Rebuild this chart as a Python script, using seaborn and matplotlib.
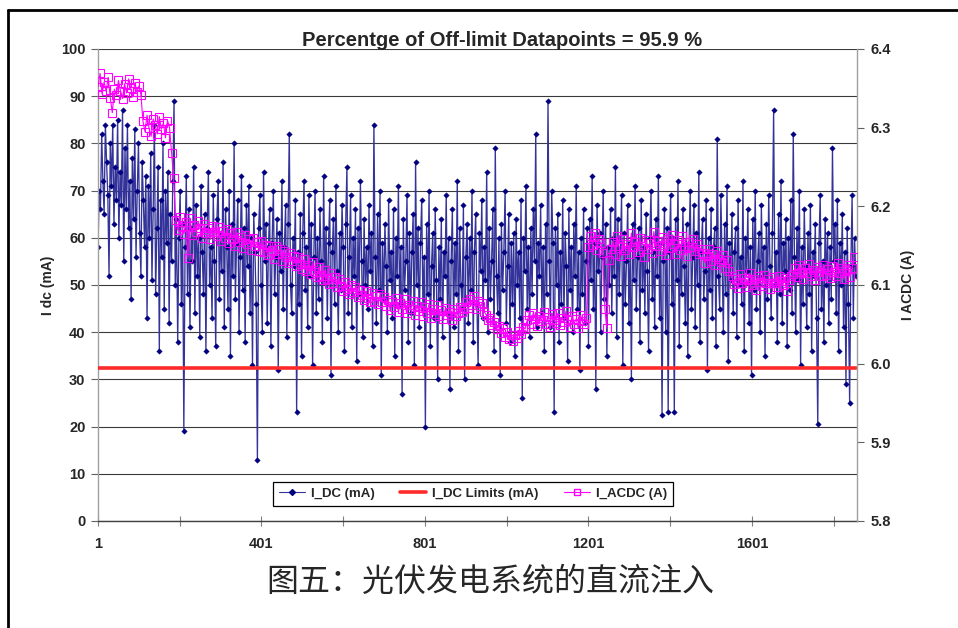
import numpy as np
import pandas as pd
import matplotlib
matplotlib.use("Agg")
import matplotlib.pyplot as plt
from matplotlib.lines import Line2D
import seaborn as sns

# ---------------- data ----------------
title_text = "Percentge of Off-limit Datapoints = 95.9 %"
caption_text = "图五：光伏发电系统的直流注入"
series_names = ["I_DC (mA)", "I_DC Limits (mA)", "I_ACDC (A)"]
left_label = "I dc (mA)"
right_label = "I ACDC (A)"
x_tick_labels = [1, 401, 801, 1201, 1601]

idc_step = 3
i_dc = [
    58, 70, 66, 82, 72, 65, 84, 76, 69, 52, 80, 71, 84, 63, 75, 68, 85, 60, 74, 67,
    87, 55, 79, 66, 84, 62, 72, 47, 77, 64, 83, 56, 70, 80, 61, 52, 76, 68, 58, 73,
    43, 71, 60, 78, 51, 66, 84, 48, 62, 75, 36, 68, 56, 80, 45, 70, 59, 74, 42, 65,
    55, 72, 89, 50, 64, 38, 60, 70, 46, 63, 19, 58, 73, 48, 66, 41, 62, 55, 75, 44,
    67, 52, 60, 39, 71, 57, 48, 65, 36, 62, 74, 50, 58, 43, 69, 55, 37, 64, 72, 47,
    61, 53, 76, 41, 66, 58, 45, 70, 35, 63, 52, 80, 47, 59, 68, 40, 56, 73, 49, 62,
    38, 67, 54, 71, 44, 60, 33, 65, 57, 46, 13, 62, 69, 50, 40, 74, 55, 63, 42, 58,
    66, 37, 59, 70, 48, 56, 64, 32, 61, 53, 72, 45, 58, 67, 39, 63, 82, 50, 44, 60,
    54, 68, 23, 57, 46, 65, 35, 61, 72, 49, 58, 41, 69, 52, 63, 33, 56, 70, 44, 60,
    47, 66, 55, 38, 73, 51, 62, 43, 59, 68, 31, 57, 64, 46, 71, 53, 40, 61, 49, 67,
    58, 36, 63, 75, 44, 56, 69, 41, 60, 52, 66, 34, 62, 48, 72, 55, 39, 64, 50, 58,
    45, 67, 53, 61, 37, 84, 56, 42, 65, 49, 70, 31, 59, 47, 63, 54, 40, 68, 51, 57,
    43, 66, 35, 60, 52, 71, 46, 58, 27, 64, 49, 55, 69, 38, 61, 44, 57, 65, 33, 76,
    50, 62, 41, 59, 68, 45, 56, 20, 63, 48, 70, 37, 54, 61, 43, 66, 51, 30, 58, 47,
    64, 39, 57, 52, 69, 44, 60, 28, 55, 66, 41, 59, 48, 72, 36, 62, 50, 45, 67, 30,
    56, 63, 42, 60, 49, 70, 38, 57, 65, 46, 33, 61, 53, 68, 43, 58, 51, 74, 40, 62,
    47, 55, 66, 36, 79, 52, 44, 60, 31, 63, 49, 57, 70, 42, 54, 65, 38, 59, 46, 61,
    35, 64, 50, 57, 43, 68, 26, 60, 53, 71, 45, 58, 39, 62, 48, 66, 55, 82, 41, 59,
    52, 67, 44, 58, 36, 63, 48, 89, 55, 41, 70, 59, 23, 62, 50, 65, 38, 57, 46, 68,
    43, 61, 54, 34, 66, 49, 58, 40, 63, 52, 71, 45, 57, 32, 60, 48, 66, 42, 55, 62,
    37, 64, 51, 73, 45, 59, 28, 67, 53, 61, 40, 56, 70, 47, 63, 35, 58, 50, 66, 44,
    60, 52, 75, 39, 64, 48, 57, 69, 33, 61, 46, 55, 67, 42, 59, 30, 63, 51, 71, 45,
    56, 62, 38, 68, 49, 58, 44, 65, 53, 36, 60, 70, 47, 57, 41, 64, 52, 73, 43, 59,
    22.5, 55, 66, 40, 62, 23, 57, 69, 46, 60, 23, 64, 51, 72, 37, 58, 48, 66, 54, 42,
    63, 35, 59, 70, 45, 56, 67, 41, 61, 50, 74, 38, 57, 64, 47, 53, 68, 32, 60, 49,
    66, 43, 58, 62, 37, 81, 52, 45, 69, 55, 40, 63, 48, 71, 34, 59, 51, 65, 44, 57,
    62, 39, 68, 50, 56, 46, 72, 36, 60, 53, 66, 42, 58, 31, 64, 49, 70, 45, 55, 61,
    40, 67, 52, 58, 35, 63, 47, 69, 54, 43, 61, 87, 50, 57, 38, 65, 48, 72, 42, 59,
    53, 64, 37, 60, 49, 68, 44, 82, 56, 40, 62, 51, 70, 33, 58, 46, 66, 54, 41, 61,
    48, 67, 36, 57, 52, 63, 43, 20.5, 59, 69, 45, 55, 38, 64, 50, 61, 42, 58, 47, 79,
    55, 63, 44, 68, 36, 59, 50, 65, 41, 57, 29, 62, 46, 25, 54, 69, 43, 60, 52,
]

i_dc_limit = 32.5

acdc_step = 5
i_acdc = [
    # start plateau
    6.352, 6.369, 6.343, 6.358, 6.346, 6.364, 6.338, 6.319, 6.349, 6.341, 6.360,
    6.347, 6.337, 6.356, 6.344, 6.362, 6.350, 6.339, 6.357, 6.345, 6.353, 6.342,
    # second plateau
    6.308, 6.295, 6.316, 6.299, 6.289, 6.311, 6.303, 6.292, 6.314, 6.298, 6.306,
    6.287, 6.309, 6.300,
    6.268, 6.236,
    6.182, 6.170, 6.187, 6.174, 6.165, 6.180, 6.134, 6.185, 6.163, 6.176,
    6.168, 6.181, 6.172, 6.160, 6.177, 6.166, 6.173, 6.158, 6.175, 6.167,
    6.162, 6.174, 6.156, 6.169, 6.160, 6.171, 6.153, 6.166, 6.158, 6.150,
    6.167, 6.155, 6.161, 6.147, 6.163, 6.152, 6.158, 6.145, 6.160, 6.149, 6.155, 6.143,
    6.156, 6.142, 6.151, 6.138, 6.149, 6.144, 6.133, 6.150, 6.139, 6.146,
    6.131, 6.143, 6.136, 6.128, 6.141, 6.130, 6.137, 6.124, 6.135, 6.127,
    6.120, 6.133, 6.118, 6.126, 6.114, 6.129, 6.117, 6.110, 6.123, 6.112,
    6.106, 6.119, 6.108, 6.101, 6.115, 6.103, 6.110, 6.097, 6.107, 6.099,
    6.093, 6.104, 6.095, 6.088, 6.100, 6.091, 6.097, 6.085, 6.094, 6.087,
    6.081, 6.092, 6.084, 6.078, 6.090, 6.080, 6.086, 6.076, 6.088, 6.079,
    6.085, 6.073, 6.081, 6.068, 6.079, 6.072, 6.084, 6.066, 6.077, 6.070,
    6.082, 6.064, 6.075, 6.069, 6.080, 6.062, 6.073, 6.067, 6.078, 6.061,
    6.072, 6.065, 6.076, 6.058, 6.070, 6.063, 6.074, 6.060, 6.068, 6.057,
    6.071, 6.062, 6.066, 6.055, 6.069, 6.060, 6.064, 6.072, 6.066, 6.070,
    6.078, 6.071, 6.082, 6.074, 6.086, 6.069, 6.080, 6.073, 6.077, 6.066,
    6.062, 6.055, 6.058, 6.049, 6.053, 6.044, 6.048, 6.039, 6.045, 6.034,
    6.040, 6.031, 6.037, 6.029, 6.036, 6.032, 6.041, 6.038, 6.047, 6.044,
    6.055, 6.062, 6.051, 6.065, 6.057, 6.048, 6.061, 6.054, 6.066, 6.050,
    6.059, 6.046, 6.063, 6.056, 6.052, 6.064, 6.049, 6.058, 6.053, 6.067,
    6.055, 6.047, 6.060, 6.051, 6.057, 6.045, 6.062, 6.054, 6.050, 6.058,
    6.148, 6.162, 6.151, 6.166, 6.145, 6.158, 6.153, 6.141,
    6.070, 6.045,
    6.132, 6.146, 6.155, 6.140, 6.162, 6.149, 6.137, 6.158, 6.145, 6.152,
    6.139, 6.166, 6.148, 6.155, 6.142, 6.160, 6.150, 6.136, 6.157, 6.146,
    6.153, 6.141, 6.168, 6.149, 6.156, 6.143, 6.161, 6.151, 6.138, 6.159,
    6.147, 6.164, 6.152, 6.140, 6.157, 6.145, 6.162, 6.150, 6.137, 6.155,
    6.148, 6.158, 6.143, 6.152, 6.139, 6.146,
    6.141, 6.128, 6.137, 6.146, 6.131, 6.139, 6.125, 6.143, 6.133, 6.129,
    6.138, 6.122, 6.132, 6.118,
    6.112, 6.101, 6.108, 6.096, 6.114, 6.103, 6.109, 6.098, 6.106, 6.115,
    6.100, 6.107, 6.094, 6.111, 6.104, 6.099, 6.113, 6.102, 6.108, 6.095,
    6.110, 6.103, 6.097, 6.112, 6.105, 6.100, 6.109, 6.093, 6.106, 6.111,
    6.114, 6.121, 6.110, 6.125, 6.117, 6.108, 6.122, 6.115, 6.127, 6.112,
    6.119, 6.106, 6.123, 6.116, 6.111, 6.126, 6.113, 6.120, 6.109, 6.124,
    6.117, 6.112, 6.128, 6.115, 6.121, 6.107, 6.119, 6.125, 6.110, 6.122, 6.135,
]

# ---------------- frames ----------------
df_dc = pd.DataFrame({"idx": 1 + idc_step * np.arange(len(i_dc)), "val": i_dc})
df_dc["limit"] = i_dc_limit
df_ac = pd.DataFrame({"idx": 1 + acdc_step * np.arange(len(i_acdc)), "val": i_acdc})

# ---------------- style ----------------
sns.set_style("white")
plt.rcParams["font.family"] = ["Liberation Sans", "DejaVu Sans"]
plt.rcParams["font.weight"] = "bold"

navy = "#000080"
navy_line = "#33339a"
magenta = "#ff00ff"
red = "#ff2a2a"

fig = plt.figure(figsize=(9.58, 6.28), dpi=100)
fig.patch.set_facecolor("white")
ax = fig.add_axes([98 / 958, 1 - 521 / 628, (857 - 98) / 958, (521 - 49) / 628])
ax.set_facecolor("white")

ax.set_axisbelow(True)
ax.yaxis.grid(True, color="#3a3a3a", linewidth=0.8)
ax.xaxis.grid(False)

sns.lineplot(data=df_dc, x="idx", y="val", ax=ax, color=navy_line, linewidth=0.95,
             marker="D", markersize=2.8, markerfacecolor=navy, markeredgecolor=navy,
             markeredgewidth=0.3, zorder=2, legend=False)
sns.lineplot(data=df_dc, x="idx", y="limit", ax=ax, color=red, linewidth=2.6,
             zorder=3, legend=False)

ax.set_xlim(1, 1858)
ax.set_ylim(0, 100)
ax.set_yticks(np.arange(0, 101, 10))
ax.set_xticks(x_tick_labels)
ax.set_xticklabels([str(v) for v in x_tick_labels])
ax.set_xticks([201, 601, 1001, 1401, 1801], minor=True)
ax.tick_params(axis="y", which="both", direction="out", length=5, width=0.8,
               color="#606060", labelsize=10.5, pad=4, left=True)
ax.tick_params(axis="x", which="both", direction="inout", length=7, width=0.8,
               color="#808080", labelsize=10.5, pad=8, bottom=True)
for lab in ax.get_xticklabels() + ax.get_yticklabels():
    lab.set_fontweight("bold")
ax.set_xlabel("")
ax.set_ylabel(left_label, fontsize=10, fontweight="bold", labelpad=4)

ax.spines["top"].set_visible(False)
ax.spines["right"].set_visible(False)
ax.spines["left"].set_color("#a0a0a0")
ax.spines["left"].set_linewidth(1.0)
ax.spines["bottom"].set_color("#404040")
ax.spines["bottom"].set_linewidth(1.0)

# secondary axis
ax2 = ax.twinx()
sns.lineplot(data=df_ac, x="idx", y="val", ax=ax2, color=magenta, linewidth=0.8,
             marker="s", markersize=5.8, markerfacecolor="none", markeredgecolor=magenta,
             markeredgewidth=0.8, zorder=4, legend=False)
ax2.set_ylim(5.8, 6.4)
ax2.set_yticks(np.round(np.arange(5.8, 6.41, 0.1), 1))
ax2.set_yticklabels([f"{v:.1f}" for v in np.arange(5.8, 6.41, 0.1)])
ax2.tick_params(axis="y", direction="out", length=5, width=0.8, color="#606060",
                labelsize=10.5, pad=5, right=True)
for lab in ax2.get_yticklabels():
    lab.set_fontweight("bold")
ax2.set_ylabel(right_label, fontsize=10, fontweight="bold", labelpad=7)
ax2.set_xlabel("")
for s in ["top", "left", "bottom"]:
    ax2.spines[s].set_visible(False)
ax2.spines["right"].set_color("#a0a0a0")
ax2.spines["right"].set_linewidth(1.0)
ax2.set_xlim(1, 1858)

# legend
handles = [
    Line2D([0], [0], color=navy_line, lw=0.8, marker="D", markersize=3,
           markerfacecolor=navy, markeredgecolor=navy),
    Line2D([0], [0], color=red, lw=2.6),
    Line2D([0], [0], color=magenta, lw=0.8, marker="s", markersize=5,
           markerfacecolor="none", markeredgecolor=magenta),
]
leg = ax2.legend(handles, series_names, loc="center", bbox_to_anchor=(0.494, 0.058),
                 ncol=3, frameon=True, fancybox=False, framealpha=1, edgecolor="black",
                 prop={"family": "Liberation Sans", "weight": "bold", "size": 9.5},
                 handlelength=2.0, columnspacing=1.9, borderpad=0.45, handletextpad=0.45)
leg.get_frame().set_linewidth(0.9)
leg.set_zorder(10)

# title
fig.text(502 / 958, 1 - 41 / 628, title_text, ha="center", va="center",
         fontsize=14.5, fontweight="bold")

# caption
fig.text(490 / 958, 1 - 582 / 628, caption_text, ha="center", va="center",
         fontsize=23, fontweight="normal", family=["Noto Sans CJK SC", "DejaVu Sans"])

# outer frame
fig.add_artist(Line2D([8 / 958, 1.0], [1 - 10 / 628, 1 - 10 / 628],
                      transform=fig.transFigure, color="black", lw=2))
fig.add_artist(Line2D([8 / 958, 8 / 958], [0, 1 - 10 / 628],
                      transform=fig.transFigure, color="black", lw=2))

fig.savefig("out.png", dpi=100, facecolor="white")
